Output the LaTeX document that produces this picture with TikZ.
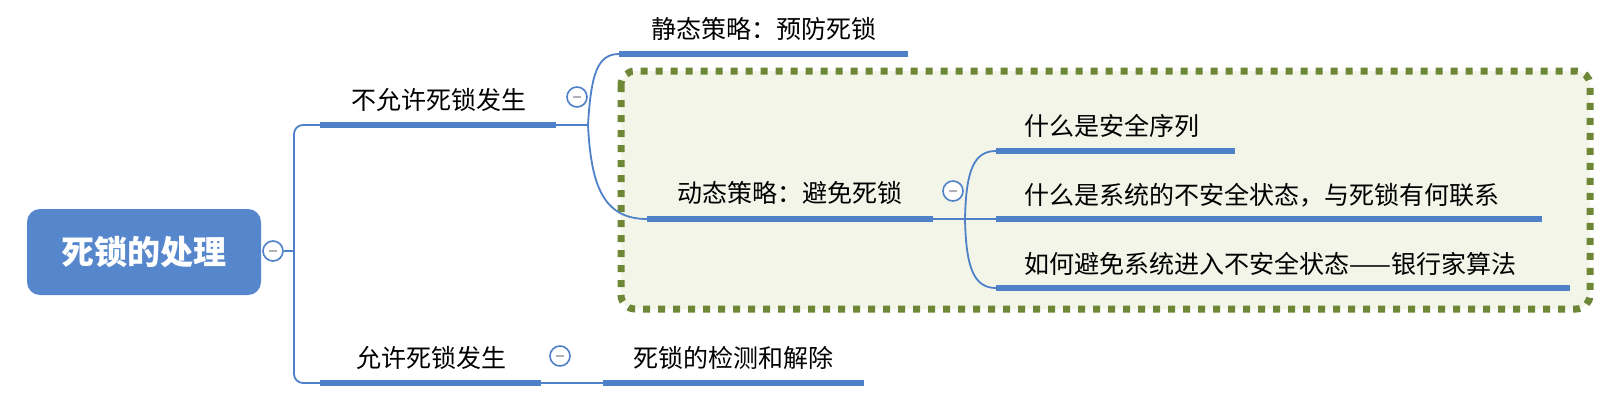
\documentclass[tikz,border=0pt]{standalone}
\usepackage{fontspec}
\setmainfont{Noto Sans CJK SC}
\definecolor{mblue}{HTML}{4E81C8}
\definecolor{rootblue}{HTML}{5687CC}
\definecolor{olive}{HTML}{6E8737}
\definecolor{palegreen}{HTML}{F2F5E8}
\begin{document}
\begin{tikzpicture}[x=1pt,y=-1pt,
  bar/.style={line width=6pt, draw=mblue},
  thin/.style={line width=1.8pt, draw=mblue},
  txt/.style={font=\fontsize{25}{30}\selectfont, text=black, inner sep=0pt},
  tog/.style={circle, draw=mblue, line width=1.6pt, fill=white, minimum size=20pt, inner sep=0pt,
    path picture={\draw[line width=1.6pt, draw=gray!60] ([xshift=-4pt]path picture bounding box.center) -- ([xshift=4pt]path picture bounding box.center);}},
  rootbox/.style={rounded corners=13pt, fill=rootblue, minimum width=234pt, minimum height=86pt, inner sep=0pt,
    text=white, font=\bfseries\fontsize{33}{38}\selectfont},
  dotbox/.style={draw=olive, fill=palegreen, line width=7pt, dash pattern=on 7pt off 8pt, rounded corners=14pt}
]
\useasboundingbox (0,0) rectangle (1623,405);

% dotted group box
\draw[dotbox] (621,71) rectangle (1590,309);

% root
\node[rootbox] (root) at (144,252) {死锁的处理};
\node[tog] (rc) at (273,251) {};
\coordinate (trunk) at (294,251);
\draw[thin] (rc.east) -- (trunk);

% level 1 coordinates
\coordinate (b1s) at (320,125);
\coordinate (b1e) at (556,125);
\coordinate (f1) at (588,125);
\coordinate (b2s) at (320,383);
\coordinate (b2e) at (541,383);
\coordinate (f2) at (603,383);

\draw[thin, rounded corners=9pt] (b1s) -- (294,125) -- (294,383) -- (b2s);
\draw[bar] (b1s) -- (b1e);
\draw[thin] (b1e) -- (f1);
\draw[bar] (b2s) -- (b2e);
\draw[thin] (b2e) -- (f2);

\node[txt] (n1) at (439,100) {不允许死锁发生};
\node[tog] (c1) at (577,97) {};
\node[txt] (n2) at (431,358) {允许死锁发生};
\node[tog] (c2) at (560,356) {};

% level 2
\coordinate (s1s) at (619,54);
\coordinate (s1e) at (908,54);
\coordinate (s2s) at (647,219);
\coordinate (s2e) at (933,219);
\coordinate (f3) at (965,219);
\coordinate (s3s) at (603,383);
\coordinate (s3e) at (864,383);

\draw[thin] (f1) .. controls (591,75) and (597,54) .. (s1s);
\draw[thin] (f1) .. controls (591,185) and (603,219) .. (s2s);
\draw[bar] (s1s) -- (s1e);
\draw[bar] (s2s) -- (s2e);
\draw[thin] (s2e) -- (f3);
\draw[bar] (s3s) -- (s3e);

\node[txt] (m1) at (764,29) {静态策略：预防死锁};
\node[txt] (m2) at (790,193) {动态策略：避免死锁};
\node[tog] (c3) at (953,191) {};
\node[txt] (m3) at (733,358) {死锁的检测和解除};

% level 3
\coordinate (u1s) at (996,151);
\coordinate (u1e) at (1235,151);
\coordinate (u2s) at (996,219);
\coordinate (u2e) at (1542,219);
\coordinate (u3s) at (996,288);
\coordinate (u3e) at (1570,288);

\draw[thin] (f3) .. controls (966,170) and (974,151) .. (u1s);
\draw[thin] (f3) -- (u2s);
\draw[thin] (f3) .. controls (966,268) and (974,288) .. (u3s);
\draw[bar] (u1s) -- (u1e);
\draw[bar] (u2s) -- (u2e);
\draw[bar] (u3s) -- (u3e);

\node[txt, anchor=west] (k1) at (1024,126) {什么是安全序列};
\node[txt, anchor=west] (k2) at (1024,195) {什么是系统的不安全状态，与死锁有何联系};
\node[txt, anchor=west] (k3) at (1024,264) {如何避免系统进入不安全状态——银行家算法};
\end{tikzpicture}
\end{document}
